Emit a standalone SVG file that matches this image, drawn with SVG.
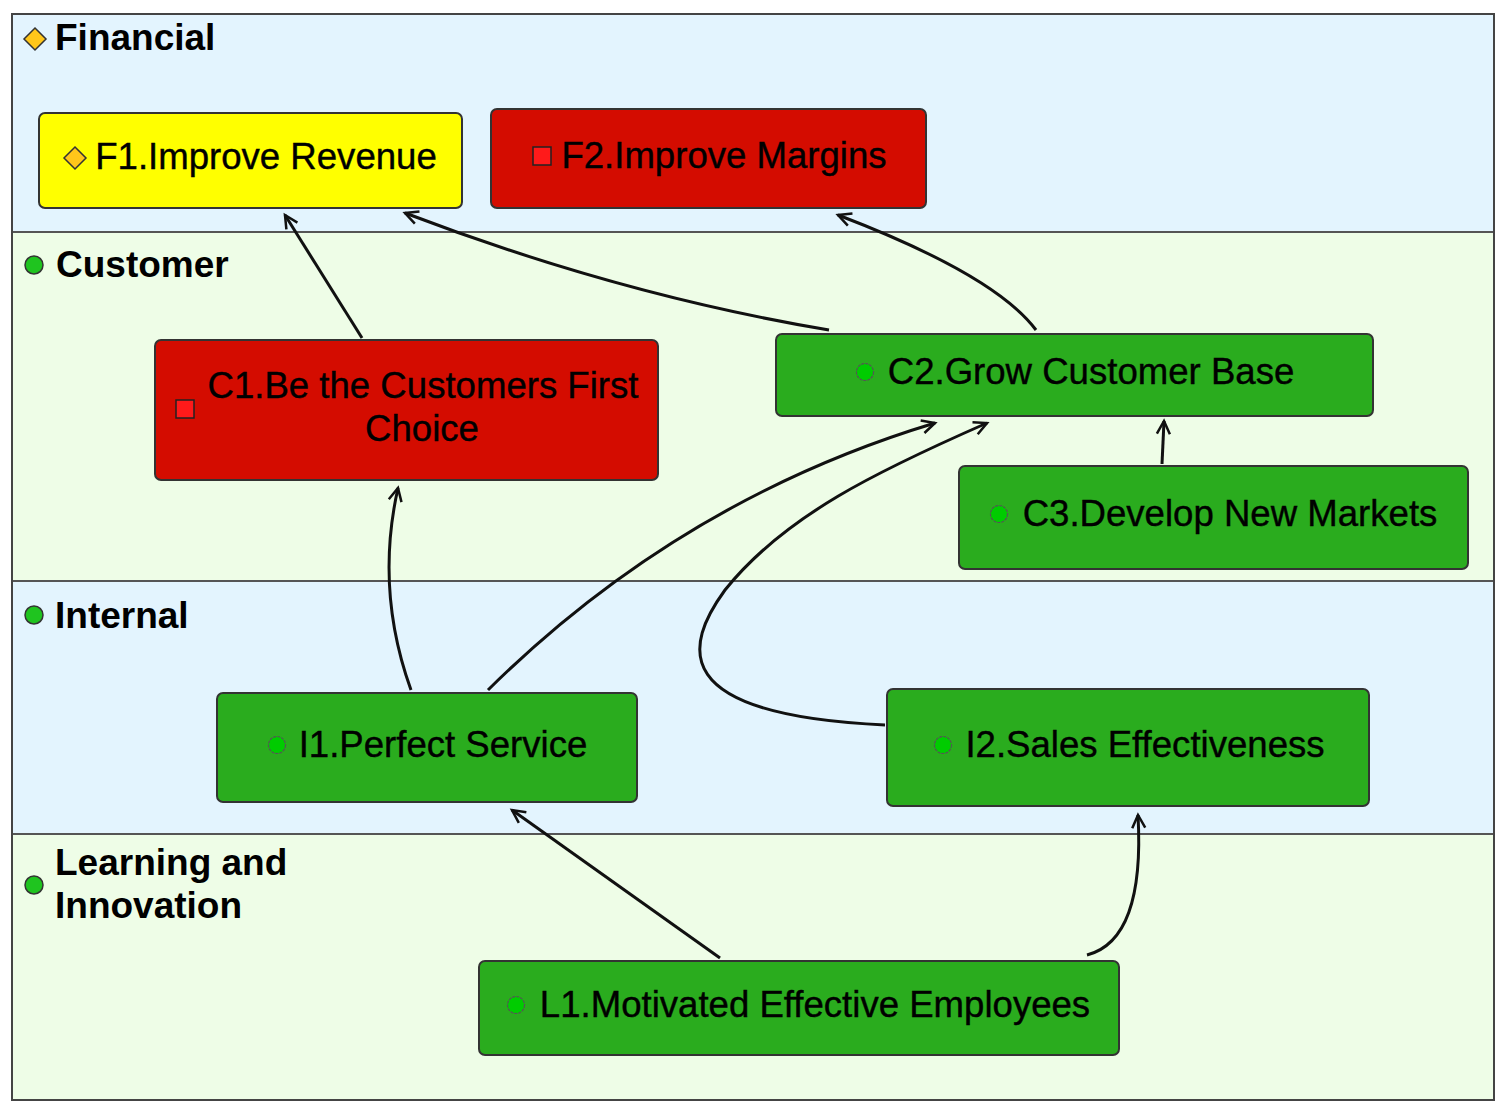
<svg xmlns="http://www.w3.org/2000/svg" width="1500" height="1104" viewBox="0 0 1500 1104">
<style>
.lb{fill:#e3f4fe}.lg{fill:#eefde7}
.sep{stroke:#555;stroke-width:2}
.lt{font-family:"Liberation Sans",Arial,sans-serif;font-weight:bold;font-size:37px;fill:#000}
.nt{font-family:"Liberation Sans",Arial,sans-serif;font-size:36.6px;fill:#000;text-anchor:middle;stroke:#000;stroke-width:0.4}
.box{stroke:#333;stroke-width:2}
.g{fill:#2aac1e}.r{fill:#d40c00}.y{fill:#ffff00}
.ci{fill:#00cc00;stroke:#555;stroke-width:1.2;stroke-dasharray:3 1}
.lc{fill:#1fc41f;stroke:#333;stroke-width:1.5}
.sq{fill:#ff1a1a;stroke:#222;stroke-width:1.5}
.dm{fill:#ffc61a;stroke:#333;stroke-width:1.5}
.e{fill:none;stroke:#111;stroke-width:3}
</style>
<defs>
<marker id="ah" viewBox="-16 -10 20 20" refX="0" refY="0" markerWidth="20" markerHeight="20" markerUnits="userSpaceOnUse" orient="auto">
<path d="M-13,-6.5 L0,0 L-13,6.5" fill="none" stroke="#111" stroke-width="2.5"/>
</marker>
</defs>
<g id="lanes">
<rect class="lb" x="12" y="14" width="1482" height="218"/>
<rect class="lg" x="12" y="232" width="1482" height="349"/>
<rect class="lb" x="12" y="581" width="1482" height="253"/>
<rect class="lg" x="12" y="834" width="1482" height="266"/>
<line class="sep" x1="12" y1="232" x2="1494" y2="232"/>
<line class="sep" x1="12" y1="581" x2="1494" y2="581"/>
<line class="sep" x1="12" y1="834" x2="1494" y2="834"/>
<rect x="12" y="14" width="1482" height="1086" fill="none" stroke="#444" stroke-width="2"/>
<path class="dm" d="M35,28 L46,39 L35,50 L24,39 Z"/>
<text class="lt" x="55" y="50">Financial</text>
<circle class="lc" cx="34" cy="265" r="9"/>
<text class="lt" x="56" y="277">Customer</text>
<circle class="lc" cx="34" cy="615" r="9"/>
<text class="lt" x="55" y="628">Internal</text>
<circle class="lc" cx="34" cy="885" r="9"/>
<text class="lt" x="55" y="875">Learning and</text>
<text class="lt" x="55" y="918">Innovation</text>
</g>
<g id="connectors">
<path class="e" d="M362,338 L285,215" marker-end="url(#ah)"/>
<path class="e" d="M829,330 Q620,295 405,213" marker-end="url(#ah)"/>
<path class="e" d="M1036,330 Q995,275 838,215" marker-end="url(#ah)"/>
<path class="e" d="M1162,464 L1164,421" marker-end="url(#ah)"/>
<path class="e" d="M411,690 Q375,590 398,488" marker-end="url(#ah)"/>
<path class="e" d="M488,690 Q680,500 935,423" marker-end="url(#ah)"/>
<path class="e" d="M885,725 C665,715 685,645 725,590 C785,515 880,470 987,423" marker-end="url(#ah)"/>
<path class="e" d="M720,958 L512,810" marker-end="url(#ah)"/>
<path class="e" d="M1087,955 Q1145,940 1138,815" stroke-width="4" marker-end="url(#ah)"/>
</g>
<g id="F1"><rect class="box y" x="39" y="113" width="423" height="95" rx="6"/>
<path class="dm" d="M75,147 L86,158 L75,169 L64,158 Z"/>
<text class="nt" x="266" y="169">F1.Improve Revenue</text></g>
<g id="F2"><rect class="box r" x="491" y="109" width="435" height="99" rx="6"/>
<rect class="sq" x="533" y="147" width="18" height="18"/>
<text class="nt" x="724" y="168">F2.Improve Margins</text></g>
<g id="C1"><rect class="box r" x="155" y="340" width="503" height="140" rx="6"/>
<rect class="sq" x="176" y="400" width="18" height="18"/>
<text class="nt" x="423" y="398">C1.Be the Customers First</text>
<text class="nt" x="422" y="441">Choice</text></g>
<g id="C2"><rect class="box g" x="776" y="334" width="597" height="82" rx="6"/>
<circle class="ci" cx="865" cy="372" r="8.5"/>
<text class="nt" x="1091" y="384">C2.Grow Customer Base</text></g>
<g id="C3"><rect class="box g" x="959" y="466" width="509" height="103" rx="6"/>
<circle class="ci" cx="999" cy="514" r="8.5"/>
<text class="nt" x="1230" y="526">C3.Develop New Markets</text></g>
<g id="I1"><rect class="box g" x="217" y="693" width="420" height="109" rx="6"/>
<circle class="ci" cx="277" cy="745" r="8.5"/>
<text class="nt" x="443" y="757">I1.Perfect Service</text></g>
<g id="I2"><rect class="box g" x="887" y="689" width="482" height="117" rx="6"/>
<circle class="ci" cx="943" cy="745" r="8.5"/>
<text class="nt" x="1145" y="757">I2.Sales Effectiveness</text></g>
<g id="L1"><rect class="box g" x="479" y="961" width="640" height="94" rx="6"/>
<circle class="ci" cx="516" cy="1005" r="8.5"/>
<text class="nt" x="815" y="1017">L1.Motivated Effective Employees</text></g>
</svg>
